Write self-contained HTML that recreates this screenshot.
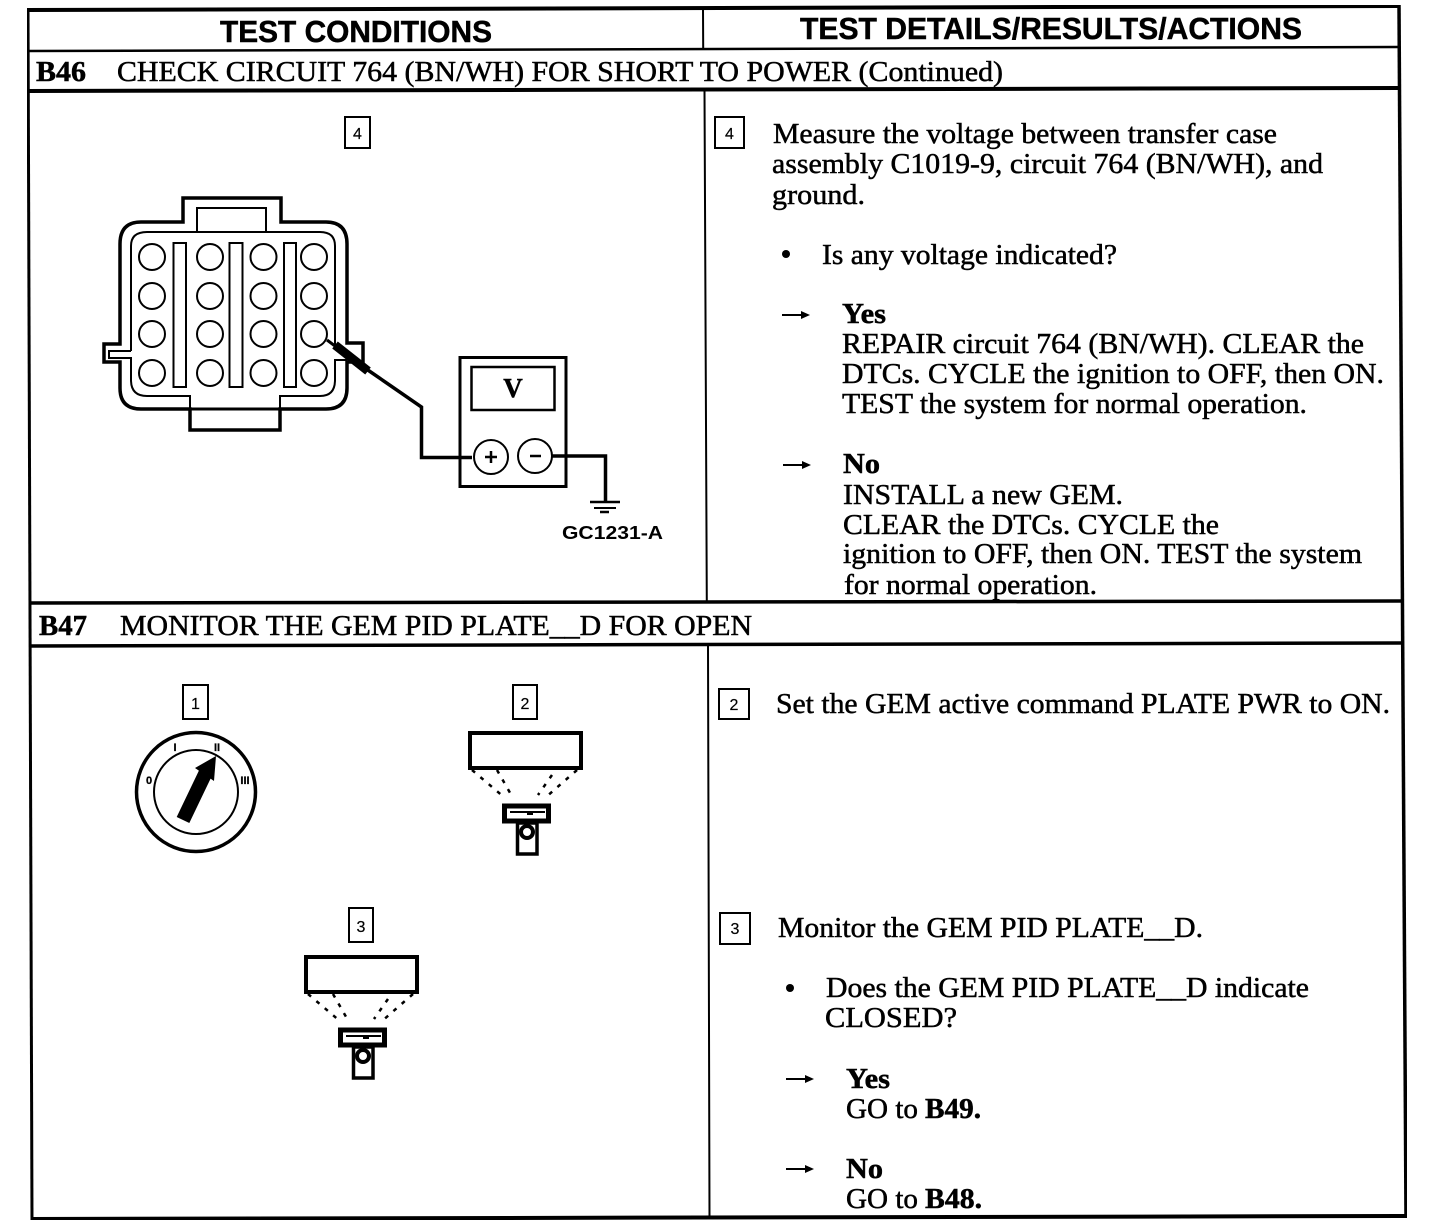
<!DOCTYPE html>
<html><head><meta charset="utf-8"><title>B46 / B47</title>
<style>
html,body{margin:0;padding:0;background:#fff;width:1456px;height:1224px;overflow:hidden}
svg{display:block;position:absolute;left:0;top:0}
text{font-family:"Liberation Serif",serif;font-size:29px;fill:#000;stroke:#000;stroke-width:.5px}
.b{font-weight:bold}
.h{font-family:"Liberation Sans",sans-serif;font-weight:bold;font-size:31px}
.n{font-family:"Liberation Sans",sans-serif;font-size:16px;stroke-width:.2px}
.g{font-family:"Liberation Sans",sans-serif;font-weight:bold;font-size:18px;stroke-width:0}
.s{font-family:"Liberation Sans",sans-serif;font-size:11px;font-weight:bold;stroke-width:.3px}
.l{fill:none;stroke:#000}
</style></head><body>
<svg width="1456" height="1224" viewBox="0 0 1456 1224" xmlns="http://www.w3.org/2000/svg">
<defs>
<filter id="bw" x="0" y="0" width="100%" height="100%" color-interpolation-filters="sRGB">
<feComponentTransfer><feFuncR type="discrete" tableValues="0 0 1"/><feFuncG type="discrete" tableValues="0 0 1"/><feFuncB type="discrete" tableValues="0 0 1"/></feComponentTransfer>
</filter>
<g id="tool">
<rect x="470" y="733" width="111" height="35" class="l" stroke-width="4"/>
<path d="M472 770L505 798M497 770L513 798M577 770L545 798M552 775L538 795" class="l" stroke-width="2.500" stroke-dasharray="4 7"/>
<rect x="504.500" y="806" width="44" height="15" class="l" stroke-width="5"/>
<path d="M510 812H545" class="l" stroke-width="2"/>
<path d="M527 814H533" class="l" stroke-width="2"/>
<rect x="517.500" y="823" width="19.500" height="31" class="l" stroke-width="3.500" fill="#fff"/>
<circle cx="527" cy="832" r="6" class="l" stroke-width="4" fill="#fff"/>
</g>
</defs>
<rect width="1456" height="1224" fill="#fff"/>
<g filter="url(#bw)">
<!-- frame -->
<path d="M27 10L1399 6" class="l" stroke-width="4"/>
<path d="M28 51L1399 47" class="l" stroke-width="2.500"/>
<path d="M28 91L1399 88" class="l" stroke-width="4"/>
<path d="M29 603L1403 601" class="l" stroke-width="3.500"/>
<path d="M30 646L1403 643" class="l" stroke-width="3.500"/>
<path d="M32 1219L1407 1216" class="l" stroke-width="4"/>
<path d="M28 8L32 1220" class="l" stroke-width="3"/>
<path d="M1399 5L1406 1218" class="l" stroke-width="3.500"/>
<path d="M703 9L703.200 49M704.500 90L706.800 602M708 645L709.500 1218" class="l" stroke-width="2"/>

<!-- headings -->
<text class="h" x="220" y="42" textLength="272" lengthAdjust="spacingAndGlyphs">TEST CONDITIONS</text>
<text class="h" x="800" y="39" textLength="502" lengthAdjust="spacingAndGlyphs">TEST DETAILS/RESULTS/ACTIONS</text>
<text class="b" x="36" y="81" textLength="50" lengthAdjust="spacingAndGlyphs">B46</text>
<text x="117" y="81" textLength="886" lengthAdjust="spacingAndGlyphs">CHECK CIRCUIT 764 (BN/WH) FOR SHORT TO POWER (Continued)</text>
<text class="b" x="39" y="635" textLength="48" lengthAdjust="spacingAndGlyphs">B47</text>
<text x="120" y="635" textLength="632" lengthAdjust="spacingAndGlyphs">MONITOR THE GEM PID PLATE__D FOR OPEN</text>

<!-- right column B46 -->
<text x="773" y="143" textLength="504" lengthAdjust="spacingAndGlyphs">Measure the voltage between transfer case</text>
<text x="772" y="173" textLength="551" lengthAdjust="spacingAndGlyphs">assembly C1019-9, circuit 764 (BN/WH), and</text>
<text x="772" y="204" textLength="93" lengthAdjust="spacingAndGlyphs">ground.</text>
<text x="822" y="264" textLength="295" lengthAdjust="spacingAndGlyphs">Is any voltage indicated?</text>
<text class="b" x="842" y="323" textLength="44" lengthAdjust="spacingAndGlyphs">Yes</text>
<text x="842" y="353" textLength="522" lengthAdjust="spacingAndGlyphs">REPAIR circuit 764 (BN/WH). CLEAR the</text>
<text x="842" y="383" textLength="542" lengthAdjust="spacingAndGlyphs">DTCs. CYCLE the ignition to OFF, then ON.</text>
<text x="842" y="413" textLength="465" lengthAdjust="spacingAndGlyphs">TEST the system for normal operation.</text>
<text class="b" x="843" y="473" textLength="37" lengthAdjust="spacingAndGlyphs">No</text>
<text x="843" y="504" textLength="280" lengthAdjust="spacingAndGlyphs">INSTALL a new GEM.</text>
<text x="843" y="534" textLength="376" lengthAdjust="spacingAndGlyphs">CLEAR the DTCs. CYCLE the</text>
<text x="843" y="563" textLength="519" lengthAdjust="spacingAndGlyphs">ignition to OFF, then ON. TEST the system</text>
<text x="844" y="594" textLength="253" lengthAdjust="spacingAndGlyphs">for normal operation.</text>

<!-- right column B47 -->
<text x="776" y="713" textLength="614" lengthAdjust="spacingAndGlyphs">Set the GEM active command PLATE PWR to ON.</text>
<text x="778" y="937" textLength="425" lengthAdjust="spacingAndGlyphs">Monitor the GEM PID PLATE__D.</text>
<text x="826" y="997" textLength="483" lengthAdjust="spacingAndGlyphs">Does the GEM PID PLATE__D indicate</text>
<text x="825" y="1027" textLength="132" lengthAdjust="spacingAndGlyphs">CLOSED?</text>
<text class="b" x="846" y="1088" textLength="44" lengthAdjust="spacingAndGlyphs">Yes</text>
<text x="846" y="1118" textLength="72" lengthAdjust="spacingAndGlyphs">GO to</text><text class="b" x="925" y="1118" textLength="56" lengthAdjust="spacingAndGlyphs">B49.</text>
<text class="b" x="846" y="1178" textLength="37" lengthAdjust="spacingAndGlyphs">No</text>
<text x="846" y="1208" textLength="72" lengthAdjust="spacingAndGlyphs">GO to</text><text class="b" x="925" y="1208" textLength="57" lengthAdjust="spacingAndGlyphs">B48.</text>

<!-- bullets -->
<circle cx="786" cy="254" r="4"/><circle cx="790" cy="988" r="4"/>
<!-- arrows -->
<g fill="#000">
<path d="M782 315H804" class="l" stroke-width="2"/><path d="M801 311L810 315L801 319Z"/>
<path d="M783 465H805" class="l" stroke-width="2"/><path d="M802 461L811 465L802 469Z"/>
<path d="M786 1079H808" class="l" stroke-width="2"/><path d="M805 1075L814 1079L805 1083Z"/>
<path d="M786 1169H808" class="l" stroke-width="2"/><path d="M805 1165L814 1169L805 1173Z"/>
</g>

<!-- number boxes -->
<g class="l" stroke-width="2">
<rect x="345" y="117" width="25" height="31"/>
<rect x="715" y="117" width="29" height="31"/>
<rect x="183" y="685" width="25" height="34"/>
<rect x="513" y="685" width="24" height="34"/>
<rect x="349" y="908" width="24" height="34"/>
<rect x="719" y="689" width="30" height="30"/>
<rect x="720" y="913" width="30" height="31"/>
</g>
<text class="n" x="357.500" y="139" text-anchor="middle">4</text>
<text class="n" x="729.500" y="139" text-anchor="middle">4</text>
<text class="n" x="195.500" y="709" text-anchor="middle">1</text>
<text class="n" x="525" y="709" text-anchor="middle">2</text>
<text class="n" x="361" y="932" text-anchor="middle">3</text>
<text class="n" x="734" y="710" text-anchor="middle">2</text>
<text class="n" x="735" y="934" text-anchor="middle">3</text>

<!-- connector -->
<path d="M183 222V198H281V222H326Q347 222 347 244V343H363V362H347V388Q347 409 326 409H280V430H190V409H141Q120 409 120 388V362H104V344H120V244Q120 222 141 222Z" class="l" stroke-width="3.500"/>
<path d="M190 409H280" class="l" stroke-width="3"/>
<path d="M197 232V208H266V232M131 351H109V358H131V380Q131 396 147 396H190V409M280 409V396H320Q335 396 335 380V360H347M335 345V246Q335 232 320 232H147Q131 232 131 246V351" class="l" stroke-width="2"/>
<g class="l" stroke-width="2">
<rect x="173.500" y="243" width="12.500" height="144"/>
<rect x="229.500" y="243" width="13" height="144"/>
<rect x="284" y="243" width="12" height="144"/>
<circle cx="152" cy="257" r="13"/><circle cx="210" cy="257" r="13"/><circle cx="263.500" cy="257" r="13"/><circle cx="314" cy="257" r="13"/>
<circle cx="152" cy="296" r="13"/><circle cx="210" cy="296" r="13"/><circle cx="263.500" cy="296" r="13"/><circle cx="314" cy="296" r="13"/>
<circle cx="152" cy="334" r="13"/><circle cx="210" cy="334" r="13"/><circle cx="263.500" cy="334" r="13"/><circle cx="314" cy="334" r="13"/>
<circle cx="152" cy="373" r="13"/><circle cx="210" cy="373" r="13"/><circle cx="263.500" cy="373" r="13"/><circle cx="314" cy="373" r="13"/>
</g>
<!-- probe and meter -->
<path d="M327 340L343 352" class="l" stroke-width="3"/>
<path d="M335 345L368 371" class="l" stroke-width="9"/>
<path d="M362 366L421.500 407V457.500H472" class="l" stroke-width="3.500"/>
<rect x="460" y="357.500" width="106" height="129" class="l" stroke-width="3"/>
<rect x="471.500" y="367" width="83" height="43" class="l" stroke-width="2.500"/>
<text class="b" x="513" y="397" text-anchor="middle" style="font-size:27px">V</text>
<circle cx="491" cy="457" r="17" class="l" stroke-width="2" fill="#fff"/>
<circle cx="535" cy="456" r="17" class="l" stroke-width="2" fill="#fff"/>
<path d="M485 457H497M491 451V463M530 456H541" class="l" stroke-width="2.500"/>
<path d="M552 456H605.500V501" class="l" stroke-width="3.500"/>
<path d="M590 502H620" class="l" stroke-width="2.500"/>
<path d="M594 508H616" class="l" stroke-width="2"/>
<path d="M600 512H609" class="l" stroke-width="2.500"/>
<text class="g" x="562" y="539" textLength="101" lengthAdjust="spacingAndGlyphs">GC1231-A</text>

<!-- ignition -->
<circle cx="196" cy="792" r="59.500" class="l" stroke-width="3.500"/>
<circle cx="196" cy="792" r="42" class="l" stroke-width="2"/>
<path d="M183 820L206 772" class="l" stroke-width="14"/>
<path d="M216 756L214 781L195 768Z"/>
<text class="s" x="175" y="751" text-anchor="middle">I</text>
<text class="s" x="217" y="751" text-anchor="middle">II</text>
<text class="s" x="149" y="784" text-anchor="middle">0</text>
<text class="s" x="245" y="784" text-anchor="middle">III</text>

<!-- scan tools -->
<use href="#tool"/>
<use href="#tool" x="-164" y="224"/>
</g>
</svg>
</body></html>
